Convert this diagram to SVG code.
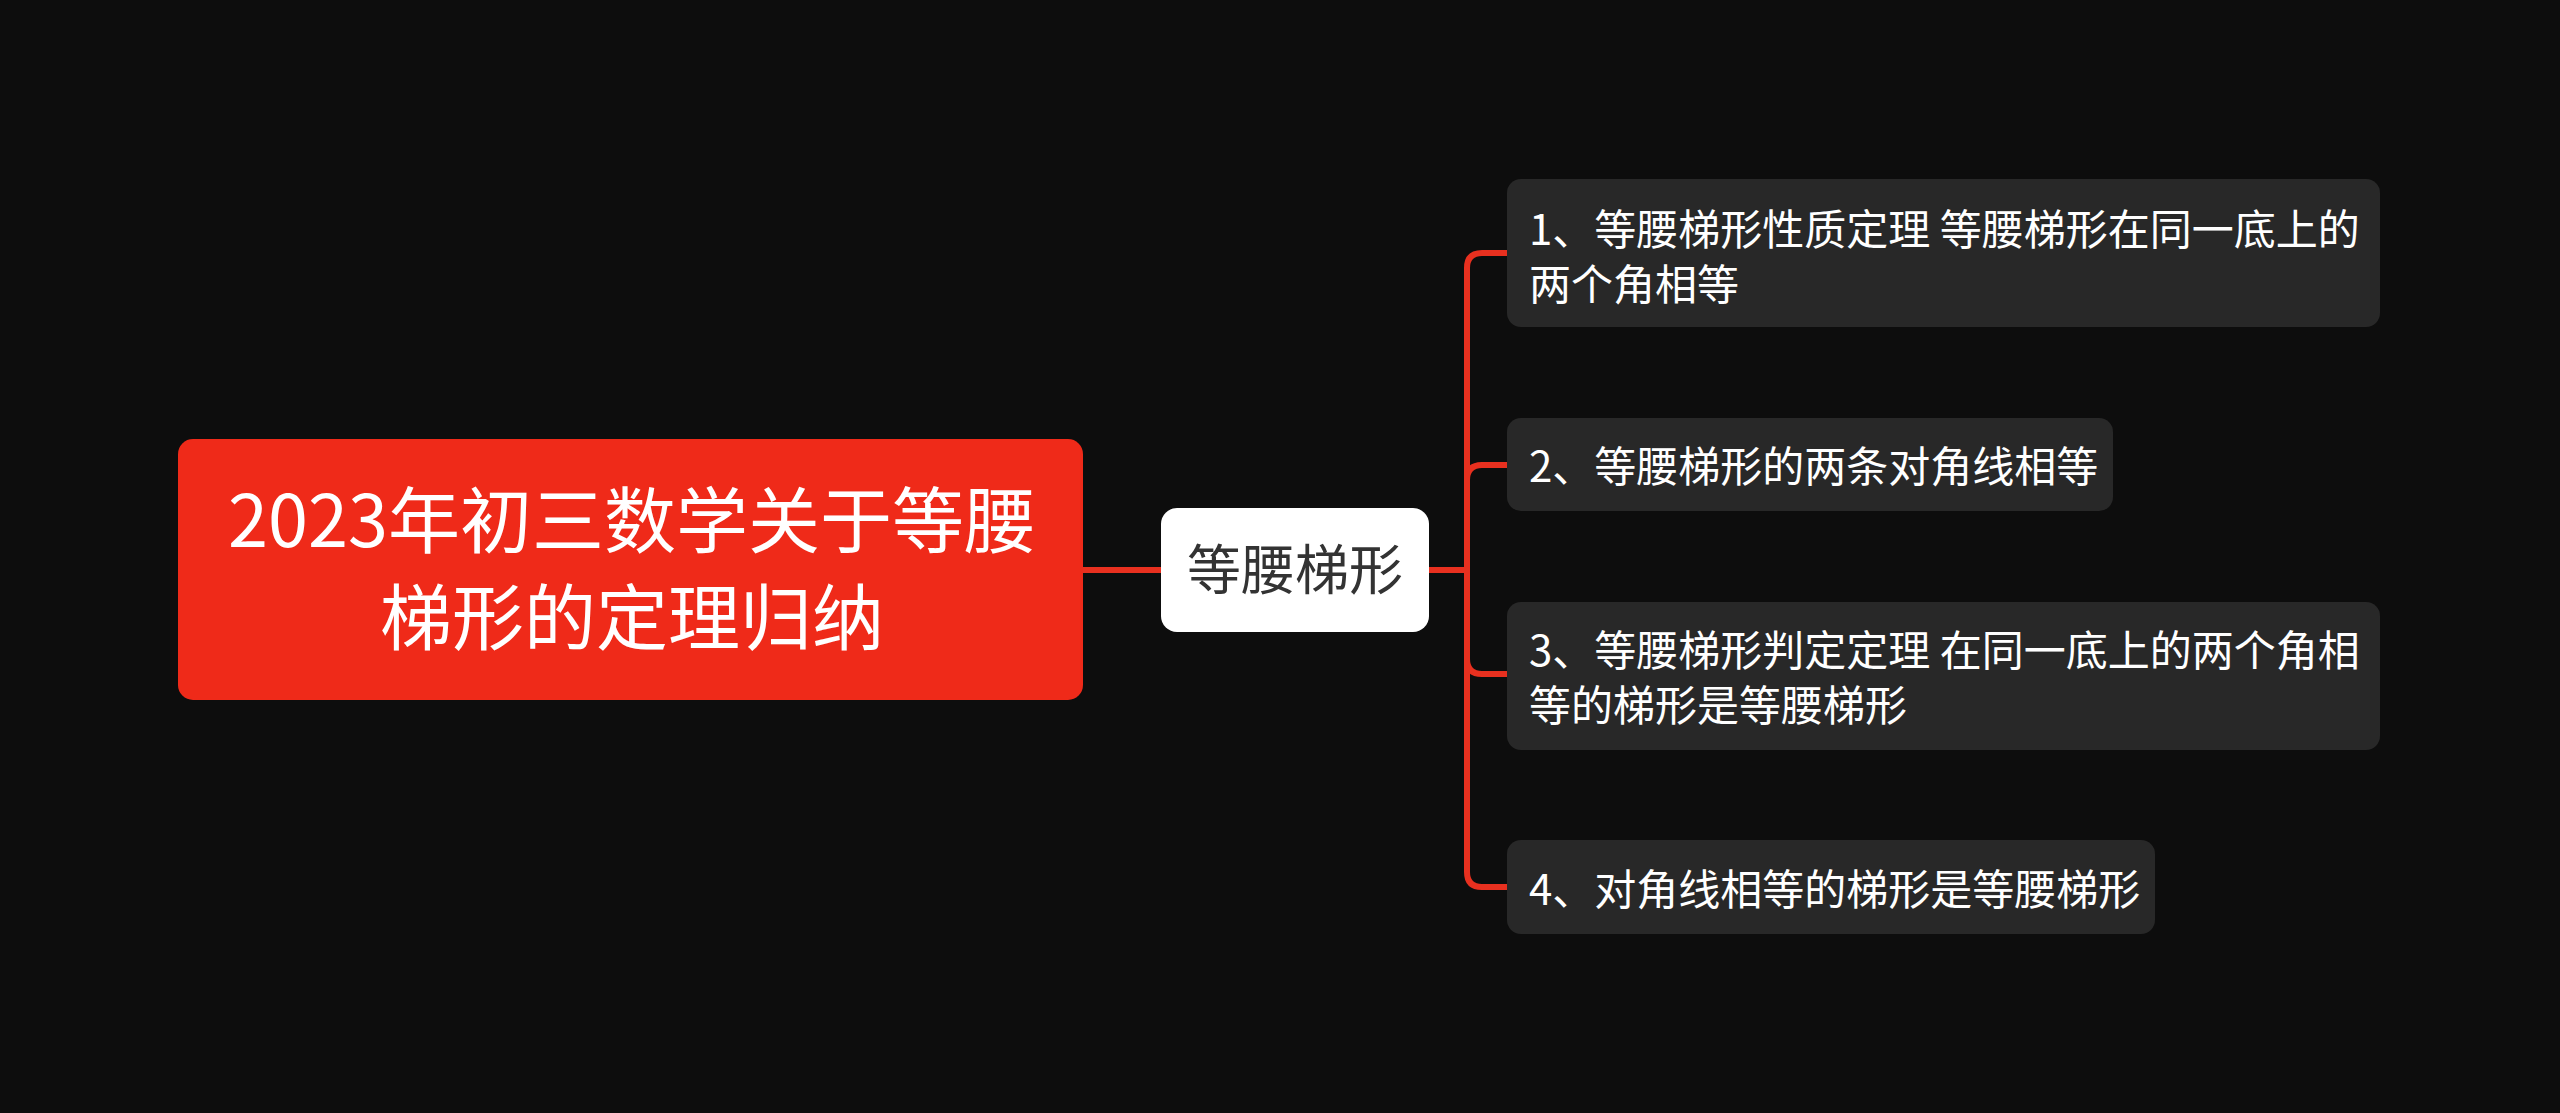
<svg xmlns="http://www.w3.org/2000/svg" width="2560" height="1113" viewBox="0 0 2560 1113">
<style>
.bg{fill:#0d0d0d}
.root{fill:#ef2a19}
.mid{fill:#ffffff}
.leaf{fill:#282828}
.conn{fill:none;stroke:#e8301f;stroke-width:6;stroke-linecap:butt}
text{font-family:"Noto Sans CJK SC","Noto Sans",sans-serif}
.t-root{font-size:72px;fill:#ffffff;text-anchor:middle}
.t-mid{font-size:54px;fill:#333333;text-anchor:middle}
.t-leaf{font-size:42px;fill:#ffffff}
</style>
<rect class="bg" x="0" y="0" width="2560" height="1113"/>
<g id="connectors">
<path class="conn" d="M1082 570 H1161"/>
<path class="conn" d="M1429 570 H1467 V268 Q1467 253 1482 253 H1507"/>
<path class="conn" d="M1429 570 H1467 V480 Q1467 465 1482 465 H1507"/>
<path class="conn" d="M1429 570 H1467 V659 Q1467 674 1482 674 H1507"/>
<path class="conn" d="M1429 570 H1467 V872 Q1467 887 1482 887 H1507"/>
</g>
<g id="root">
<rect class="root" x="178" y="439" width="905" height="261" rx="15"/>
<text class="t-root"><tspan x="632" y="547">2023年初三数学关于等腰</tspan><tspan x="632" y="644">梯形的定理归纳</tspan></text>
</g>
<g id="mid">
<rect class="mid" x="1161" y="508" width="268" height="124" rx="16"/>
<text class="t-mid" x="1295" y="590">等腰梯形</text>
</g>
<g id="leaf1">
<rect class="leaf" x="1507" y="179" width="873" height="148" rx="14"/>
<text class="t-leaf"><tspan x="1529" y="245">1、等腰梯形性质定理 等腰梯形在同一底上的</tspan><tspan x="1529" y="300">两个角相等</tspan></text>
</g>
<g id="leaf2">
<rect class="leaf" x="1507" y="418" width="606" height="93" rx="14"/>
<text class="t-leaf" x="1529" y="482">2、等腰梯形的两条对角线相等</text>
</g>
<g id="leaf3">
<rect class="leaf" x="1507" y="602" width="873" height="148" rx="14"/>
<text class="t-leaf"><tspan x="1529" y="666">3、等腰梯形判定定理 在同一底上的两个角相</tspan><tspan x="1529" y="721">等的梯形是等腰梯形</tspan></text>
</g>
<g id="leaf4">
<rect class="leaf" x="1507" y="840" width="648" height="94" rx="14"/>
<text class="t-leaf" x="1529" y="905">4、对角线相等的梯形是等腰梯形</text>
</g>
</svg>
